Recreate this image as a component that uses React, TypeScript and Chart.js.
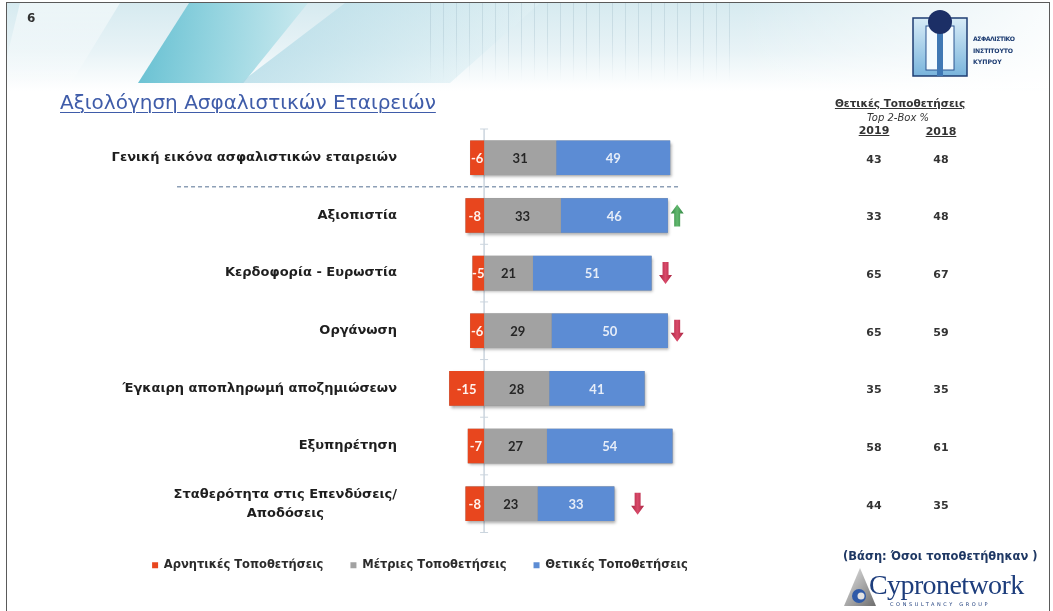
import React, { useEffect, useRef } from "react";
import { Chart, registerables } from "chart.js";

Chart.register(...registerables);

// ---------- data ----------
const categories: (string | string[])[] = [
  "Γενική εικόνα ασφαλιστικών εταιρειών",
  "Αξιοπιστία",
  "Κερδοφορία - Ευρωστία",
  "Οργάνωση",
  "Έγκαιρη αποπληρωμή αποζημιώσεων",
  "Εξυπηρέτηση",
  ["Σταθερότητα στις Επενδύσεις/", "Αποδόσεις"],
];
const seriesNames = ["Αρνητικές Τοποθετήσεις", "Μέτριες Τοποθετήσεις", "Θετικές Τοποθετήσεις"];
const negativeValues = [-6, -8, -5, -6, -15, -7, -8];
const neutralValues = [31, 33, 21, 29, 28, 27, 23];
const positiveValues = [49, 46, 51, 50, 41, 54, 33];
const top2Box2019 = [43, 33, 65, 65, 35, 58, 44];
const top2Box2018 = [48, 48, 67, 59, 35, 61, 35];
const trendDirection = [null, "up", "down", "down", null, null, "down"];
const trendArrowValue = [null, 83, 78, 83, null, null, 66];

// ---------- style ----------
const RED = "#e8461e";
const GRAY = "#a2a2a2";
const BLUE = "#5c8cd4";
const FONT = "'DejaVu Sans', sans-serif";
const NUM_FONT = "Lato, 'DejaVu Sans', sans-serif";
const X_MIN = -34;
const X_MAX = 153;
const SEP_FROM = -132;
const SEP_TO = 84;
const COL_2019_X = 874;
const COL_2018_X = 941;

function drawArrow(ctx: CanvasRenderingContext2D, cx: number, cy: number, dir: string) {
  const H = 22, sw = 6, hw = 13, hh = 9;
  const top = cy - H / 2;
  const light = dir === "up" ? "#62b86f" : "#d94a6a";
  const dark = dir === "up" ? "#2f8540" : "#a8223f";
  ctx.save();
  const g = ctx.createLinearGradient(cx - hw / 2, 0, cx + hw / 2, 0);
  g.addColorStop(0, dark);
  g.addColorStop(0.5, light);
  g.addColorStop(1, dark);
  ctx.fillStyle = g;
  ctx.beginPath();
  if (dir === "down") {
    ctx.moveTo(cx - sw / 2, top);
    ctx.lineTo(cx + sw / 2, top);
    ctx.lineTo(cx + sw / 2, top + H - hh);
    ctx.lineTo(cx + hw / 2, top + H - hh);
    ctx.lineTo(cx, top + H);
    ctx.lineTo(cx - hw / 2, top + H - hh);
    ctx.lineTo(cx - sw / 2, top + H - hh);
  } else {
    ctx.moveTo(cx, top);
    ctx.lineTo(cx + hw / 2, top + hh);
    ctx.lineTo(cx + sw / 2, top + hh);
    ctx.lineTo(cx + sw / 2, top + H);
    ctx.lineTo(cx - sw / 2, top + H);
    ctx.lineTo(cx - sw / 2, top + hh);
    ctx.lineTo(cx - hw / 2, top + hh);
  }
  ctx.closePath();
  ctx.fill();
  ctx.restore();
}

const slidePlugin = {
  id: "slideDecor",
  beforeDatasetsDraw(chart: any) {
    const { ctx, chartArea } = chart;
    const xs = chart.scales.x;
    const ys = chart.scales.y;
    const x0 = xs.getPixelForValue(0);
    ctx.save();
    ctx.strokeStyle = "#cbd5de";
    ctx.lineWidth = 1.5;
    ctx.beginPath();
    ctx.moveTo(x0, chartArea.top);
    ctx.lineTo(x0, chartArea.bottom);
    ctx.stroke();
    ctx.lineWidth = 1;
    ctx.beginPath();
    for (let i = 0; i <= categories.length; i++) {
      const yy = ys.getPixelForValue(i - 0.5);
      ctx.moveTo(x0 - 4, yy);
      ctx.lineTo(x0 + 4, yy);
    }
    ctx.stroke();
    // dashed separator after the first row
    const ySep = ys.getPixelForValue(0.5);
    ctx.setLineDash([4, 3]);
    ctx.strokeStyle = "#8d9fb6";
    ctx.lineWidth = 1.5;
    ctx.beginPath();
    ctx.moveTo(xs.getPixelForValue(SEP_FROM), ySep);
    ctx.lineTo(xs.getPixelForValue(SEP_TO), ySep);
    ctx.stroke();
    ctx.setLineDash([]);
    // soft shadow under each full bar
    ctx.shadowColor = "rgba(0,0,0,0.35)";
    ctx.shadowBlur = 3;
    ctx.shadowOffsetX = 1.5;
    ctx.shadowOffsetY = 2;
    ctx.fillStyle = "#888";
    for (let i = 0; i < categories.length; i++) {
      let l = Infinity, r = -Infinity, cy = 0, h = 0;
      chart.data.datasets.forEach((_: any, d: number) => {
        const el = chart.getDatasetMeta(d).data[i];
        l = Math.min(l, el.x, el.base);
        r = Math.max(r, el.x, el.base);
        cy = el.y;
        h = el.height;
      });
      ctx.fillRect(l, cy - h / 2, r - l, h);
    }
    ctx.restore();
  },
  afterDatasetsDraw(chart: any) {
    const { ctx } = chart;
    ctx.save();
    ctx.textAlign = "center";
    ctx.textBaseline = "middle";
    ctx.font = `bold 13px ${NUM_FONT}`;
    const labelColors = ["#fff3ee", "#262626", "#e6edf8"];
    chart.data.datasets.forEach((ds: any, d: number) => {
      const meta = chart.getDatasetMeta(d);
      meta.data.forEach((el: any, i: number) => {
        ctx.fillStyle = labelColors[d];
        ctx.fillText(String(ds.data[i]), (el.x + el.base) / 2, el.y + 1);
      });
    });
    ctx.restore();
  },
  afterDraw(chart: any) {
    const { ctx, chartArea } = chart;
    const xs = chart.scales.x;
    const ys = chart.scales.y;
    ctx.save();
    // category labels
    ctx.fillStyle = "#1e1e1e";
    ctx.font = `bold 13px ${FONT}`;
    ctx.textBaseline = "middle";
    const right = chartArea.left - 8;
    categories.forEach((c, i) => {
      const cy = ys.getPixelForValue(i);
      if (Array.isArray(c)) {
        const w = Math.max(...c.map((s) => ctx.measureText(s).width));
        ctx.textAlign = "center";
        const lh = 19;
        c.forEach((s, k) => {
          ctx.fillText(s, right - w / 2, cy + (k - (c.length - 1) / 2) * lh);
        });
      } else {
        ctx.textAlign = "right";
        ctx.fillText(c, right, cy);
      }
    });
    // Top-2-box columns
    ctx.textAlign = "center";
    ctx.fillStyle = "#333";
    ctx.font = `bold 11px ${FONT}`;
    categories.forEach((_, i) => {
      const cy = ys.getPixelForValue(i) + 2;
      ctx.fillText(String(top2Box2019[i]), COL_2019_X, cy);
      ctx.fillText(String(top2Box2018[i]), COL_2018_X, cy);
    });
    // trend arrows
    trendDirection.forEach((dir, i) => {
      if (!dir) return;
      drawArrow(ctx, xs.getPixelForValue(trendArrowValue[i] as number), ys.getPixelForValue(i), dir);
    });
    ctx.restore();
  },
};

function ChartCanvas() {
  const ref = useRef<HTMLCanvasElement | null>(null);
  useEffect(() => {
    if (!ref.current) return;
    const chart = new Chart(ref.current, {
      type: "bar",
      data: {
        labels: categories.map((c) => (Array.isArray(c) ? c.join(" ") : c)),
        datasets: [
          { label: seriesNames[0], data: negativeValues, backgroundColor: RED },
          { label: seriesNames[1], data: neutralValues, backgroundColor: GRAY },
          { label: seriesNames[2], data: positiveValues, backgroundColor: BLUE },
        ],
      },
      options: {
        indexAxis: "y",
        animation: false,
        responsive: true,
        maintainAspectRatio: false,
        layout: { padding: { top: 129, right: 213, bottom: 30, left: 0 } },
        datasets: { bar: { categoryPercentage: 1, barPercentage: 0.6 } },
        scales: {
          x: { display: false, stacked: true, min: X_MIN, max: X_MAX },
          y: {
            display: true,
            stacked: true,
            grid: { display: false },
            border: { display: false },
            ticks: { display: false },
            afterFit: (s: any) => {
              s.width = 405;
            },
          },
        },
        plugins: {
          legend: {
            position: "bottom",
            labels: {
              boxWidth: 6,
              boxHeight: 6,
              padding: 27,
              color: "#2b2b2b",
              font: { family: FONT, size: 11.5, weight: "bold" },
            },
          },
          tooltip: { enabled: false },
        },
      },
      plugins: [slidePlugin],
    } as any);
    return () => chart.destroy();
  }, []);
  return <canvas ref={ref} />;
}

function InstituteLogo() {
  return (
    <svg width="115" height="75" style={{ position: "absolute", left: 908, top: 8 }}>
      <defs>
        <linearGradient id="lg1" x1="0" y1="0" x2="0" y2="1">
          <stop offset="0" stopColor="#d8ecf7" />
          <stop offset="1" stopColor="#79b4dc" />
        </linearGradient>
      </defs>
      <rect x="5" y="10" width="54" height="58" fill="url(#lg1)" stroke="#1f3e73" strokeWidth="1.5" />
      <rect x="18" y="18" width="28" height="44" fill="#f4fbff" stroke="#2a5590" strokeWidth="1" />
      <rect x="29" y="18" width="6" height="50" fill="#3f78b4" />
      <circle cx="32" cy="14" r="12" fill="#1c2f66" />
      <text x="65" y="33" fontFamily={FONT} fontWeight="bold" fontSize="6.2" fill="#1f3e73" textLength="42">ΑΣΦΑΛΙΣΤΙΚΟ</text>
      <text x="65" y="45" fontFamily={FONT} fontWeight="bold" fontSize="6.2" fill="#1f3e73" textLength="40">ΙΝΣΤΙΤΟΥΤΟ</text>
      <text x="65" y="56" fontFamily={FONT} fontWeight="bold" fontSize="6.2" fill="#1f3e73">ΚΥΠΡΟΥ</text>
    </svg>
  );
}

function CypronetworkLogo() {
  return (
    <div style={{ position: "absolute", left: 842, top: 566, width: 205, height: 45 }}>
      <svg width="36" height="42" style={{ position: "absolute", left: 0, top: 0 }}>
        <defs>
          <linearGradient id="tri" x1="0" y1="0" x2="1" y2="1">
            <stop offset="0" stopColor="#e8e8e8" />
            <stop offset="1" stopColor="#6d6d6d" />
          </linearGradient>
        </defs>
        <polygon points="18,2 34,40 2,40" fill="url(#tri)" />
        <circle cx="17" cy="30" r="7" fill="#2f5aa8" />
        <circle cx="19" cy="30" r="3.5" fill="#e3e3e3" />
      </svg>
      <div
        style={{
          position: "absolute",
          left: 27,
          top: 5,
          fontFamily: "'Liberation Serif', serif",
          fontSize: 28,
          color: "#1d3d7c",
          letterSpacing: -0.6,
          lineHeight: "28px",
        }}
      >
        Cypronetwork
      </div>
      <div
        style={{
          position: "absolute",
          left: 48,
          top: 35,
          fontFamily: FONT,
          fontSize: 5,
          color: "#1d3d7c",
          letterSpacing: 2.6,
        }}
      >
        CONSULTANCY GROUP
      </div>
    </div>
  );
}

export default function App() {
  const abs = (o: any) => ({ position: "absolute" as const, ...o });
  return (
    <div
      style={{
        position: "fixed",
        left: 0,
        top: 0,
        width: 1053,
        height: 611,
        background: "#fff",
        overflow: "hidden",
      }}
    >
      {/* header banner */}
      <div
        style={abs({
          left: 7,
          top: 3,
          width: 1042,
          height: 88,
          background:
            "linear-gradient(180deg, rgba(212,233,239,0.95) 0%, rgba(228,241,245,0.85) 55%, rgba(255,255,255,0) 100%)",
        })}
      />
      <div
        style={abs({
          left: 0,
          top: 3,
          width: 200,
          height: 82,
          background: "linear-gradient(180deg, rgba(255,255,255,0.55), rgba(255,255,255,0.1))",
          clipPath: "polygon(10% 0, 60% 0, 35% 100%, 0 100%)",
        })}
      />
      <div
        style={abs({
          left: 138,
          top: 3,
          width: 170,
          height: 80,
          background: "linear-gradient(90deg, #52b8cc 0%, #86cfdc 45%, #c6e8ee 100%)",
          clipPath: "polygon(30% 0, 100% 0, 62% 100%, 0 100%)",
          opacity: 0.85,
        })}
      />
      <div
        style={abs({
          left: 240,
          top: 3,
          width: 300,
          height: 80,
          background: "linear-gradient(90deg, rgba(170,215,228,0.7), rgba(235,246,248,0.3))",
          clipPath: "polygon(35% 0, 100% 0, 70% 100%, 0 100%)",
        })}
      />
      <div
        style={abs({
          left: 430,
          top: 3,
          width: 310,
          height: 78,
          background:
            "repeating-linear-gradient(90deg, rgba(140,170,185,0.25) 0 1px, rgba(0,0,0,0) 1px 13px)",
          WebkitMaskImage: "linear-gradient(180deg, #000 40%, transparent 100%)",
          maskImage: "linear-gradient(180deg, #000 40%, transparent 100%)",
        })}
      />
      <div
        style={abs({
          left: 740,
          top: 3,
          width: 309,
          height: 85,
          background: "linear-gradient(90deg, rgba(255,255,255,0), rgba(255,255,255,0.85))",
        })}
      />
      {/* frame */}
      <div style={abs({ left: 6, top: 2, width: 1042, height: 640, border: "1px solid #5a5a5a" })} />

      {/* chart */}
      <div style={abs({ left: 0, top: 0, width: 1053, height: 611 })}>
        <ChartCanvas />
      </div>

      {/* texts */}
      <div style={abs({ left: 27, top: 11, fontFamily: FONT, fontWeight: "bold", fontSize: 12, color: "#333" })}>6</div>
      <div
        style={abs({
          left: 60,
          top: 90,
          fontFamily: FONT,
          fontSize: 20,
          color: "#3f5ca9",
          textDecoration: "underline",
          textDecorationThickness: "1px",
          textUnderlineOffset: "3px",
          whiteSpace: "nowrap",
        })}
      >
        Αξιολόγηση Ασφαλιστικών Εταιρειών
      </div>
      <InstituteLogo />
      <div
        style={abs({
          left: 820,
          top: 97,
          width: 160,
          textAlign: "center",
          fontFamily: FONT,
          fontWeight: "bold",
          fontSize: 10.5,
          color: "#333",
          textDecoration: "underline",
        })}
      >
        Θετικές Τοποθετήσεις
      </div>
      <div
        style={abs({
          left: 848,
          top: 112,
          width: 100,
          textAlign: "center",
          fontFamily: FONT,
          fontStyle: "italic",
          fontSize: 10,
          color: "#333",
        })}
      >
        Top 2-Box %
      </div>
      <div
        style={abs({
          left: 844,
          top: 124,
          width: 60,
          textAlign: "center",
          fontFamily: FONT,
          fontWeight: "bold",
          fontSize: 11,
          color: "#333",
          textDecoration: "underline",
        })}
      >
        2019
      </div>
      <div
        style={abs({
          left: 911,
          top: 125,
          width: 60,
          textAlign: "center",
          fontFamily: FONT,
          fontWeight: "bold",
          fontSize: 11,
          color: "#333",
          textDecoration: "underline",
        })}
      >
        2018
      </div>
      <div
        style={abs({
          left: 843,
          top: 549,
          fontFamily: FONT,
          fontWeight: "bold",
          fontSize: 11.5,
          color: "#1f3864",
          whiteSpace: "nowrap",
        })}
      >
        (Βάση: Όσοι τοποθετήθηκαν )
      </div>
      <CypronetworkLogo />
    </div>
  );
}
